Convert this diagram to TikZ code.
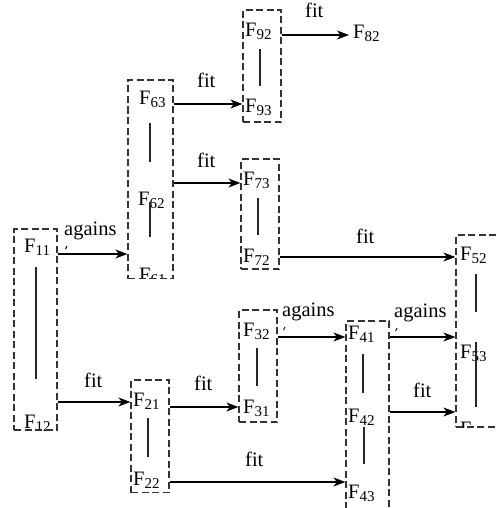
\documentclass[tikz,border=0pt]{standalone}
\usepackage{fontspec}
\setmainfont{Liberation Serif}
\usetikzlibrary{arrows.meta,fit}
\newcommand\sbs[1]{\raisebox{-3pt}{\fontsize{15}{15}\selectfont #1}}
\begin{document}
\begin{tikzpicture}[x=1pt,y=-1pt,
  lbl/.style={anchor=base west,inner sep=0pt,font=\fontsize{20.5}{20.5}\selectfont},
  dbox/.style={draw=black!80,line width=1.2pt,dash pattern=on 7pt off 3.5pt,inner sep=0pt},
  vline/.style={line width=1.1pt,draw=black!85},
  arr/.style={line width=1.2pt,-{Stealth[length=12pt,width=9pt,inset=3.5pt]}},
  tickmark/.style={line width=0.9pt}]
\useasboundingbox (0,0) rectangle (496,508);
\clip (0,0) rectangle (496,508);
% box corners
\coordinate (b1nw) at (14,229);   \coordinate (b1se) at (57,430);
\coordinate (b6nw) at (128,80);   \coordinate (b6se) at (173,278.5);
\coordinate (b9nw) at (243,10);   \coordinate (b9se) at (281,122);
\coordinate (b7nw) at (241,159);  \coordinate (b7se) at (279,269);
\coordinate (b3nw) at (239,310);  \coordinate (b3se) at (277,422);
\coordinate (b2nw) at (131,380);  \coordinate (b2se) at (169,492.5);
\coordinate (b4nw) at (346,321);  \coordinate (b4se) at (389,516);
\coordinate (b5nw) at (456,235);  \coordinate (b5se) at (506,427);
% texts
\node[lbl] (f11) at (24,252) {F\sbs{11}};
\begin{scope}\clip (b1nw) rectangle (b1se);
\node[lbl] (f12) at (24,428) {F\sbs{12}};
\end{scope}
\node[lbl] (f63) at (139,105) {F\sbs{63}};
\node[lbl] (f62) at (138,205) {F\sbs{62}};
\begin{scope}\clip (b6nw) rectangle (b6se);
\node[lbl] (f61) at (139,281) {F\sbs{61}};
\end{scope}
\node[lbl] (f92) at (245,37) {F\sbs{92}};
\node[lbl] (f93) at (245,113) {F\sbs{93}};
\node[lbl] (f82) at (353,39) {F\sbs{82}};
\node[lbl] (f73) at (243,185) {F\sbs{73}};
\node[lbl] (f72) at (243,262) {F\sbs{72}};
\node[lbl] (f32) at (243,336) {F\sbs{32}};
\node[lbl] (f31) at (243,413) {F\sbs{31}};
\node[lbl] (f21) at (133,406) {F\sbs{21}};
\node[lbl] (f22) at (133,485) {F\sbs{22}};
\node[lbl] (f41) at (348,339) {F\sbs{41}};
\node[lbl] (f42) at (348,422) {F\sbs{42}};
\node[lbl] (f43) at (348,498) {F\sbs{43}};
\node[lbl] (f52) at (460,260) {F\sbs{52}};
\node[lbl] (f53) at (460,358) {F\sbs{53}};
\begin{scope}\clip (b5nw) rectangle (b5se);
\node[lbl] (f51) at (460,435) {F\sbs{51}};
\end{scope}
% boxes
\node[dbox,fit=(b1nw)(b1se)] (b1) {};
\node[dbox,fit=(b6nw)(b6se)] (b6) {};
\node[dbox,fit=(b9nw)(b9se)] (b9) {};
\node[dbox,fit=(b7nw)(b7se)] (b7) {};
\node[dbox,fit=(b3nw)(b3se)] (b3) {};
\node[dbox,fit=(b2nw)(b2se)] (b2) {};
\node[dbox,fit=(b4nw)(b4se)] (b4) {};
\node[dbox,fit=(b5nw)(b5se)] (b5) {};
% vertical links
\draw[vline] (36,267) -- (36,379);
\draw[vline] (150,123) -- (150,162);
\draw[vline] (150,202) -- (150,237);
\draw[vline] (260,49) -- (260,86);
\draw[vline] (258,198) -- (258,235);
\draw[vline] (257,348) -- (257,386);
\draw[vline] (148,418) -- (148,457);
\draw[vline] (363,354) -- (363,393);
\draw[vline] (364,427) -- (364,464);
\draw[vline] (476,274) -- (476,312);
\draw[vline] (476,342) -- (476,407);
% arrows
\draw[arr] (b1.east |- 0,254) -- (b6.west |- 0,254);
\node[lbl] (l1) at (64,235) {agains};
\draw[tickmark] (65.5,249) -- (67,246);
\draw[arr] (b1.east |- 0,402) -- (b2.west |- 0,402);
\node[lbl] (l2) at (84,387) {fit};
\draw[arr] (b6.east |- 0,104) -- (b9.west |- 0,104);
\node[lbl] (l3) at (197,88) {fit};
\draw[arr] (b6.east |- 0,183) -- (b7.west |- 0,183);
\node[lbl] (l4) at (197,167) {fit};
\draw[arr,shorten >=4pt] (b9.east |- 0,35) -- (f82.west |- 0,35);
\node[lbl] (l5) at (305,18) {fit};
\draw[arr] (b7.east |- 0,257) -- (b5.west |- 0,257);
\node[lbl] (l6) at (356,243) {fit};
\draw[arr] (b2.east |- 0,407) -- (b3.west |- 0,407);
\node[lbl] (l7) at (194,390) {fit};
\draw[arr] (b2.east |- 0,482) -- (b4.west |- 0,482);
\node[lbl] (l8) at (245,466) {fit};
\draw[arr] (b3.east |- 0,337) -- (b4.west |- 0,337);
\node[lbl] (l9) at (282,316) {agains};
\draw[tickmark] (283.5,330) -- (285,327);
\draw[arr] (b4.east |- 0,337) -- (b5.west |- 0,337);
\node[lbl] (l10) at (394,317) {agains};
\draw[tickmark] (395.5,331) -- (397,328);
\draw[arr] (b4.east |- 0,412) -- (b5.west |- 0,412);
\node[lbl] (l11) at (413,397) {fit};
\end{tikzpicture}
\end{document}
